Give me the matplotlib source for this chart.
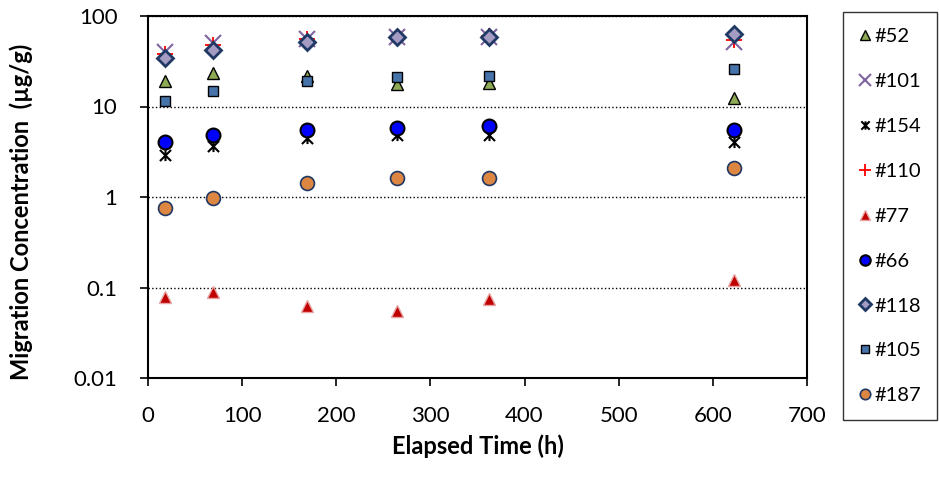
import matplotlib.pyplot as plt
from matplotlib.path import Path

plt.rcParams['font.family'] = ['Lato', 'DejaVu Sans']

# elapsed time (h)
hours = [18, 69, 169, 265, 362, 622]

# migration concentration (ug/g) per congener
c52 = [19, 23.5, 22, 17.6, 18, 12.3]
c101 = [40, 50, 56, 58, 59, 51]
c154 = [2.9, 3.7, 4.5, 4.8, 4.8, 4.1]
c110 = [38, 48, 55, 58, 60, 54]
c77 = [0.079, 0.09, 0.063, 0.055, 0.075, 0.12]
c66 = [4.1, 4.8, 5.5, 5.8, 6.1, 5.5]
c118 = [34, 42.5, 51, 58, 58, 63]
c105 = [11.4, 14.7, 19, 21, 21.6, 25.7]
c187 = [0.76, 0.97, 1.43, 1.62, 1.62, 2.09]

# excel-style "star": X with a vertical bar
star = Path([(-1, -1), (1, 1), (-1, 1), (1, -1), (0, -1), (0, 1)],
            [Path.MOVETO, Path.LINETO, Path.MOVETO, Path.LINETO, Path.MOVETO, Path.LINETO])

fig = plt.figure(figsize=(9.39, 4.91), dpi=100)
ax = fig.add_axes([148 / 939, 1 - 378 / 491, 659 / 939, 362 / 491])

ax.plot(hours, c52, ls='none', marker='^', ms=9, mfc='#8FAA55', mec='black', mew=1, label='#52')
ax.plot(hours, c101, ls='none', marker='x', ms=12, mec='#8064A2', mew=1.5, label='#101')
ax.plot(hours, c154, ls='none', marker=star, ms=8, mec='black', mew=1.5, label='#154')
ax.plot(hours, c110, ls='none', marker='+', ms=11, mec='#FF0000', mew=1.3, label='#110')
ax.plot(hours, c77, ls='none', marker='^', ms=9, mfc='#C00000', mec='#E8A3A3', mew=1, label='#77')
ax.plot(hours, c66, ls='none', marker='o', ms=10, mfc='#0000FF', mec='black', mew=1.5, label='#66')
ax.plot(hours, c118, ls='none', marker='D', ms=8, mfc='#A59CC4', mec='#1F3864', mew=2, label='#118')
ax.plot(hours, c105, ls='none', marker='s', ms=7.5, mfc='#4674AA', mec='black', mew=1, label='#105')
ax.plot(hours, c187, ls='none', marker='o', ms=10, mfc='#DD8642', mec='#1F3864', mew=1.2, label='#187')

ax.set_yscale('log')
ax.set_ylim(0.01, 100)
ax.set_xlim(0, 700)
ax.set_xticks(range(0, 701, 100))
ax.set_yticks([0.01, 0.1, 1, 10, 100])
ax.set_yticklabels(['0.01', '0.1', '1', '10', '100'])
ax.minorticks_off()
ax.tick_params(axis='both', direction='out', length=6, width=1.2, labelsize=16)
ax.tick_params(axis='y', pad=16)
ax.tick_params(axis='x', pad=14)
ax.yaxis.grid(True, ls=':', color='black', lw=1)
for s in ax.spines.values():
    s.set_linewidth(1.5)

ax.set_xlabel('Elapsed Time (h)', fontsize=17, fontweight='bold', labelpad=6)
ax.set_ylabel('Migration Concentration  (\u00b5g/g)', fontsize=17, fontweight='bold')
ax.yaxis.set_label_coords(-0.175, 0.46)

leg = ax.legend(loc='upper left', bbox_to_anchor=(843 / 939, 1 - 12 / 491), bbox_transform=fig.transFigure,
                frameon=True, fancybox=False, edgecolor='black', fontsize=14.5, markerscale=0.75,
                labelspacing=1.38, handlelength=0.6, handletextpad=0.15, borderpad=0.8, borderaxespad=0)
leg.get_frame().set_linewidth(1)

fig.savefig('out.png', dpi=100)
